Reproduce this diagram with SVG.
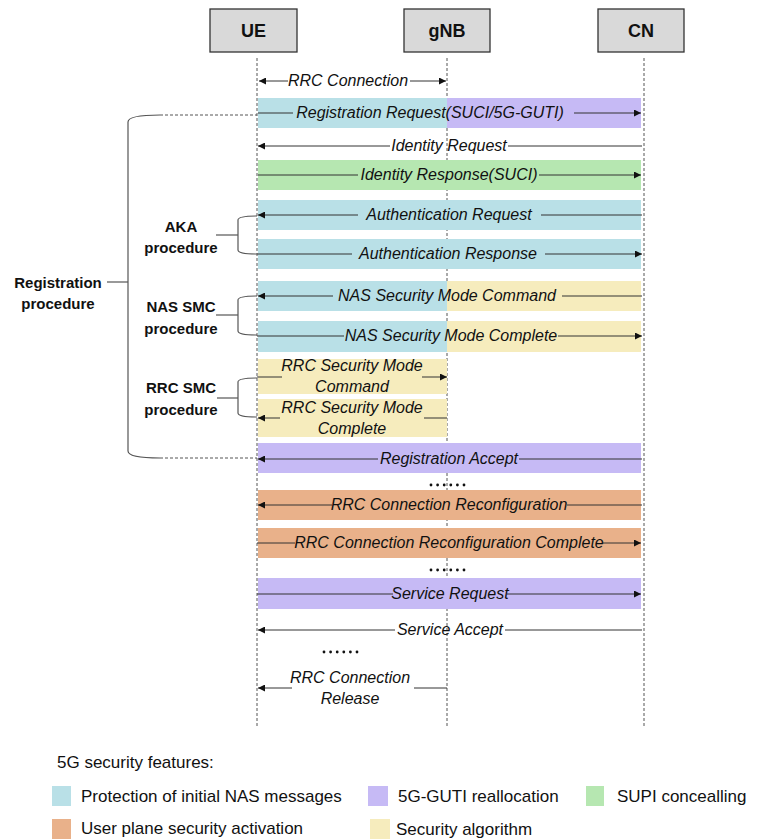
<svg xmlns="http://www.w3.org/2000/svg" width="757" height="840" viewBox="0 0 757 840">
<defs>
<marker id="ah" viewBox="0 0 10 10" refX="10" refY="5" markerWidth="9" markerHeight="7" orient="auto" markerUnits="userSpaceOnUse"><path d="M0,0 L10,5 L0,10 z" fill="#111"/></marker>
<style>
.box{fill:#d9d9d9;stroke:#333;stroke-width:1.3}
.bt{font-family:"Liberation Sans",Arial,sans-serif;font-weight:bold;font-size:18px;fill:#111;text-anchor:middle}
.life{stroke:#555;stroke-width:1;stroke-dasharray:3,2;fill:none}
.m{stroke:#333;stroke-width:1;fill:none}
.a{stroke:#333;stroke-width:1;fill:none;marker-end:url(#ah)}
.t{font-family:"Liberation Sans",Arial,sans-serif;font-style:italic;font-size:16px;fill:#111;text-anchor:middle}
.lb{font-family:"Liberation Sans",Arial,sans-serif;font-weight:bold;font-size:15px;fill:#111;text-anchor:middle}
.br{stroke:#555;stroke-width:1.2;fill:none}
.brd{stroke:#555;stroke-width:1;fill:none;stroke-dasharray:3,2}
.lg{font-family:"Liberation Sans",Arial,sans-serif;font-size:17px;fill:#111}
.blue{fill:#b9e0e7}.purple{fill:#c6baf5}.green{fill:#b6e7b1}.yellow{fill:#f6ecbd}.orange{fill:#e9b18a}
.dot{fill:#111}
</style>
</defs>
<rect width="757" height="840" fill="#fff"/>

<g id="lifelines">
<line class="life" x1="257" y1="58" x2="257" y2="728"/>
<line class="life" x1="447" y1="58" x2="447" y2="728"/>
<line class="life" x1="644" y1="58" x2="644" y2="728"/>
</g>

<g id="UE"><rect class="box" x="210" y="9" width="87" height="43"/><text class="bt" x="253.5" y="37">UE</text></g>
<g id="gNB"><rect class="box" x="404" y="9" width="86" height="43"/><text class="bt" x="447" y="37">gNB</text></g>
<g id="CN"><rect class="box" x="598" y="9" width="86" height="43"/><text class="bt" x="641" y="37">CN</text></g>

<g id="bars">
<rect class="blue" x="258" y="98" width="189" height="30"/><rect class="purple" x="447" y="98" width="194" height="30"/>
<rect class="green" x="258" y="160" width="383" height="30"/>
<rect class="blue" x="258" y="200" width="383" height="30"/>
<rect class="blue" x="258" y="239" width="383" height="30"/>
<rect class="blue" x="258" y="281" width="189" height="30"/><rect class="yellow" x="447" y="281" width="194" height="30"/>
<rect class="blue" x="258" y="321" width="189" height="31"/><rect class="yellow" x="447" y="321" width="194" height="31"/>
<rect class="yellow" x="258" y="359" width="189" height="35"/>
<rect class="yellow" x="258" y="399" width="189" height="38"/>
<rect class="purple" x="258" y="443" width="383" height="30"/>
<rect class="orange" x="258" y="490" width="383" height="30"/>
<rect class="orange" x="258" y="528" width="383" height="30"/>
<rect class="purple" x="258" y="578" width="383" height="31"/>
</g>

<g id="brackets">
<line class="brd" x1="160" y1="115" x2="257" y2="115"/>
<line class="brd" x1="160" y1="458" x2="257" y2="458"/>
<path class="br" d="M160,115 Q128,115 128,122 L128,451 Q128,458 160,458"/>
<line class="br" x1="107" y1="282" x2="128" y2="282"/>
<path class="br" d="M257,216 Q238,216 238,220 L238,250 Q238,254 257,254"/>
<line class="br" x1="216" y1="235" x2="238" y2="235"/>
<path class="br" d="M257,296 Q238,296 238,300 L238,331 Q238,335 257,335"/>
<line class="br" x1="216" y1="315" x2="238" y2="315"/>
<path class="br" d="M257,378 Q238,378 238,382 L238,413 Q238,417 257,417"/>
<line class="br" x1="217" y1="398" x2="238" y2="398"/>
<text class="lb" x="58" y="288">Registration</text>
<text class="lb" x="58" y="309">procedure</text>
<text class="lb" x="181" y="232">AKA</text>
<text class="lb" x="181" y="253">procedure</text>
<text class="lb" x="181" y="312">NAS SMC</text>
<text class="lb" x="181" y="334">procedure</text>
<text class="lb" x="181" y="393">RRC SMC</text>
<text class="lb" x="181" y="415">procedure</text>
</g>

<g id="connectors">
<line class="a" x1="288" y1="81" x2="259" y2="81"/>
<line class="a" x1="410" y1="81" x2="446" y2="81"/>
<text class="t" x="348" y="86">RRC Connection</text>
<line class="m" x1="258" y1="113" x2="293" y2="113"/>
<line class="a" x1="574" y1="113" x2="641" y2="113"/>
<text class="t" x="430" y="118">Registration Request(SUCI/5G-GUTI)</text>
<line class="a" x1="390" y1="146" x2="258" y2="146"/>
<line class="m" x1="508" y1="146" x2="642" y2="146"/>
<text class="t" x="449" y="151">Identity Request</text>
<line class="m" x1="258" y1="175" x2="358" y2="175"/>
<line class="a" x1="539" y1="175" x2="641" y2="175"/>
<text class="t" x="449" y="180">Identity Response(SUCI)</text>
<line class="a" x1="358" y1="215" x2="258" y2="215"/>
<line class="m" x1="541" y1="215" x2="642" y2="215"/>
<text class="t" x="449" y="220">Authentication Request</text>
<line class="m" x1="257" y1="254" x2="352" y2="254"/>
<line class="a" x1="545" y1="254" x2="642" y2="254"/>
<text class="t" x="448" y="259">Authentication Response</text>
<line class="a" x1="333" y1="296" x2="258" y2="296"/>
<line class="m" x1="562" y1="296" x2="642" y2="296"/>
<text class="t" x="447" y="301">NAS Security Mode Command</text>
<line class="m" x1="257" y1="336" x2="344" y2="336"/>
<line class="a" x1="558" y1="336" x2="642" y2="336"/>
<text class="t" x="451" y="341">NAS Security Mode Complete</text>
<line class="m" x1="257" y1="377" x2="282" y2="377"/>
<line class="a" x1="422" y1="377" x2="447" y2="377"/>
<text class="t" x="352" y="371">RRC Security Mode</text>
<text class="t" x="352" y="392">Command</text>
<line class="a" x1="280" y1="418" x2="258" y2="418"/>
<line class="m" x1="424" y1="418" x2="447" y2="418"/>
<text class="t" x="352" y="413">RRC Security Mode</text>
<text class="t" x="352" y="434">Complete</text>
<line class="a" x1="378" y1="459" x2="258" y2="459"/>
<line class="m" x1="519" y1="459" x2="642" y2="459"/>
<text class="t" x="449" y="464">Registration Accept</text>
<line class="a" x1="332" y1="505" x2="258" y2="505"/>
<line class="m" x1="567" y1="505" x2="642" y2="505"/>
<text class="t" x="449" y="510">RRC Connection Reconfiguration</text>
<line class="m" x1="257" y1="543" x2="295" y2="543"/>
<line class="a" x1="603" y1="543" x2="641" y2="543"/>
<text class="t" x="449" y="548">RRC Connection Reconfiguration Complete</text>
<line class="m" x1="257" y1="594" x2="393" y2="594"/>
<line class="a" x1="507" y1="594" x2="641" y2="594"/>
<text class="t" x="450" y="599">Service Request</text>
<line class="a" x1="395" y1="630" x2="258" y2="630"/>
<line class="m" x1="505" y1="630" x2="642" y2="630"/>
<text class="t" x="450" y="635">Service Accept</text>
<line class="a" x1="292" y1="688" x2="258" y2="688"/>
<line class="m" x1="414" y1="688" x2="447" y2="688"/>
<text class="t" x="350" y="683">RRC Connection</text>
<text class="t" x="350" y="704">Release</text>
</g>

<g id="ellipses">
<g transform="translate(431,485)"><circle class="dot" cx="0" cy="0" r="1.4"/><circle class="dot" cx="6.6" cy="0" r="1.4"/><circle class="dot" cx="13.2" cy="0" r="1.4"/><circle class="dot" cx="19.8" cy="0" r="1.4"/><circle class="dot" cx="26.4" cy="0" r="1.4"/><circle class="dot" cx="33" cy="0" r="1.4"/></g>
<g transform="translate(431,570)"><circle class="dot" cx="0" cy="0" r="1.4"/><circle class="dot" cx="6.6" cy="0" r="1.4"/><circle class="dot" cx="13.2" cy="0" r="1.4"/><circle class="dot" cx="19.8" cy="0" r="1.4"/><circle class="dot" cx="26.4" cy="0" r="1.4"/><circle class="dot" cx="33" cy="0" r="1.4"/></g>
<g transform="translate(324,652)"><circle class="dot" cx="0" cy="0" r="1.4"/><circle class="dot" cx="6.6" cy="0" r="1.4"/><circle class="dot" cx="13.2" cy="0" r="1.4"/><circle class="dot" cx="19.8" cy="0" r="1.4"/><circle class="dot" cx="26.4" cy="0" r="1.4"/><circle class="dot" cx="33" cy="0" r="1.4"/></g>
</g>

<g id="legend">
<text class="lg" x="57" y="768">5G security features:</text>
<rect class="blue" x="52" y="786" width="19" height="20"/>
<text class="lg" x="81" y="802">Protection of initial NAS messages</text>
<rect class="purple" x="368" y="786" width="20" height="20"/>
<text class="lg" x="398" y="802">5G-GUTI reallocation</text>
<rect class="green" x="586" y="786" width="18" height="20"/>
<text class="lg" x="617" y="802">SUPI concealling</text>
<rect class="orange" x="52" y="819" width="19" height="20"/>
<text class="lg" x="81" y="834">User plane security activation</text>
<rect class="yellow" x="370" y="819" width="20" height="20"/>
<text class="lg" x="396" y="835">Security algorithm</text>
</g>
</svg>
